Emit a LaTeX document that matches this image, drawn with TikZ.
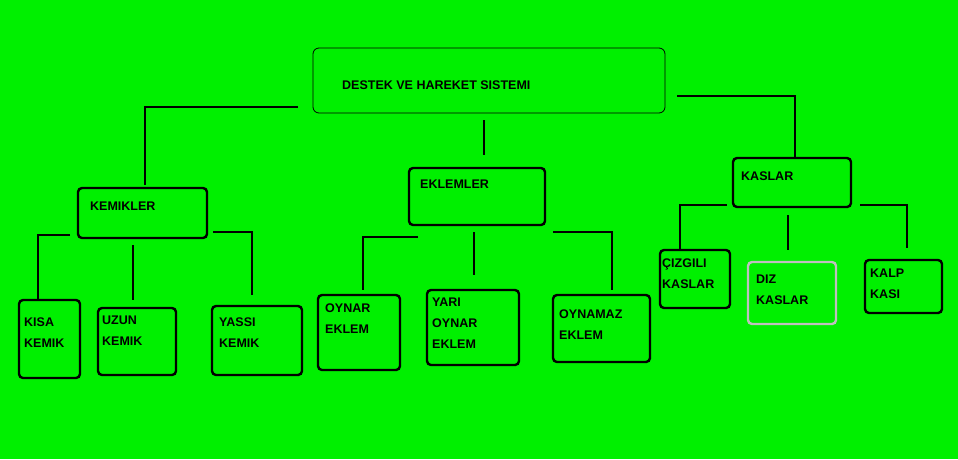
\documentclass[tikz,border=0pt]{standalone}
\usepackage{fontspec}
\setmainfont{Liberation Sans}
\begin{document}
\begin{tikzpicture}[x=1pt,y=-1pt,
 bx/.style={draw=black,line width=2.4pt,rounded corners=4pt},
 ln/.style={draw=black,line width=2.8pt},
 tx/.style={font=\fontsize{12.5}{21}\selectfont\bfseries,align=left,anchor=north west,inner sep=0pt}]
\definecolor{green}{RGB}{0,240,0}
\useasboundingbox (0,0) rectangle (958,459);
\fill[green] (0,0) rectangle (958,459);
% top
\draw[draw=black,line width=0.8pt,rounded corners=6pt] (313,48) rectangle (665,113);
\node[tx] (top) at (342,81) {DESTEK VE HAREKET SISTEMI};
\draw[ln] (298,107) -- (145,107) -- (145,185);
\draw[ln] (484,120) -- (484,155);
\draw[ln] (677,96) -- (795,96) -- (795,158);
% level 2
\draw[bx] (78,188) rectangle (207,238); \node[tx] (kem) at (90,202) {KEMIKLER};
\draw[bx] (409,168) rectangle (545,225); \node[tx] (ekl) at (420,180) {EKLEMLER};
\draw[bx] (733,158) rectangle (851,207); \node[tx] (kas) at (741,172) {KASLAR};
% kemik lines
\draw[ln] (70,235) -- (38,235) -- (38,300);
\draw[ln] (133,245) -- (133,300);
\draw[ln] (213,232) -- (252,232) -- (252,295);
\draw[bx] (19,300) rectangle (80,378); \node[tx] (kisa) at (24,318) {KISA\\KEMIK};
\draw[bx] (98,308) rectangle (176,375); \node[tx] (uzun) at (102,316) {UZUN\\KEMIK};
\draw[bx] (212,306) rectangle (302,375); \node[tx] (yassi) at (219,318) {YASSI\\KEMIK};
% eklem lines
\draw[ln] (418,237) -- (363,237) -- (363,290);
\draw[ln] (474,232) -- (474,275);
\draw[ln] (553,232) -- (612,232) -- (612,290);
\draw[bx] (318,295) rectangle (400,370); \node[tx] (oyn) at (325,304) {OYNAR\\EKLEM};
\draw[bx] (427,290) rectangle (519,365); \node[tx] (yari) at (432,298) {YARI\\OYNAR\\EKLEM};
\draw[bx] (553,295) rectangle (650,362); \node[tx] (oynz) at (559,310) {OYNAMAZ\\EKLEM};
% kas lines
\draw[ln] (727,205) -- (680,205) -- (680,250);
\draw[ln] (788,215) -- (788,250);
\draw[ln] (860,205) -- (907,205) -- (907,248);
\draw[bx] (660,250) rectangle (730,308); \node[tx] (ciz) at (662,259) {ÇIZGILI\\KASLAR};
\draw[draw=black!25,line width=2.4pt,rounded corners=4pt] (748,262) rectangle (836,324); \node[tx] (diz) at (756,275) {DIZ\\KASLAR};
\draw[bx] (865,260) rectangle (942,313); \node[tx] (kalp) at (870,269) {KALP\\KASI};
\end{tikzpicture}
\end{document}
